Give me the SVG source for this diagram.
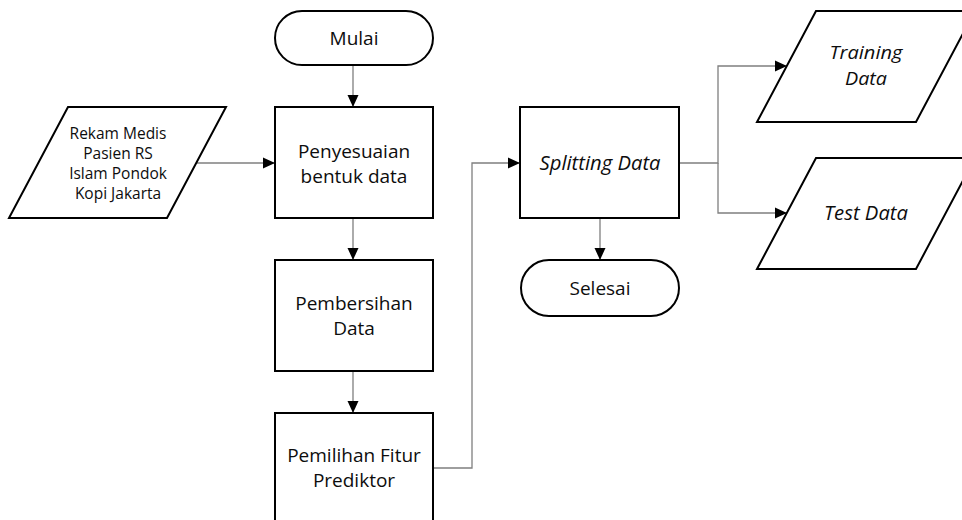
<svg xmlns="http://www.w3.org/2000/svg" width="962" height="520" viewBox="0 0 962 520">
  <style>
    .shape { fill: #ffffff; stroke: #000000; stroke-width: 2; stroke-linejoin: miter; }
    .edge { fill: none; stroke: #7f7f7f; stroke-width: 1.3; }
    .label { font-family: "Open Sans", "Noto Sans", sans-serif; font-size: 19px; fill: #0d0d0d; text-anchor: middle; }
    .small { font-size: 15.5px; }
    .it { font-style: italic; font-size: 19.5px; }
    .it2 { font-style: italic; font-size: 18.5px; }
  </style>
  <defs>
    <marker id="arrow" markerUnits="userSpaceOnUse" markerWidth="12" markerHeight="12" viewBox="0 0 12 12" refX="12" refY="6" orient="auto">
      <path d="M0,0.5 L12,6 L0,11.5 Z" fill="#000000"/>
    </marker>
  </defs>

  <!-- connectors -->
  <g id="connectors">
    <path class="edge" d="M353,65 V107" marker-end="url(#arrow)"/>
    <path class="edge" d="M197,163 H275" marker-end="url(#arrow)"/>
    <path class="edge" d="M353,218 V260" marker-end="url(#arrow)"/>
    <path class="edge" d="M353,371 V413" marker-end="url(#arrow)"/>
    <path class="edge" d="M433,468 H472 V163 H520" marker-end="url(#arrow)"/>
    <path class="edge" d="M600,218 V260" marker-end="url(#arrow)"/>
    <path class="edge" d="M679,163 H718 V66 H787" marker-end="url(#arrow)"/>
    <path class="edge" d="M718,163 V213 H787" marker-end="url(#arrow)"/>
  </g>

  <!-- start -->
  <g id="mulai">
    <rect class="shape" x="275" y="11" width="158" height="54" rx="27" ry="27"/>
    <text class="label" x="354" y="45">Mulai</text>
  </g>

  <!-- input data -->
  <g id="rekam-medis">
    <polygon class="shape" points="68,107 226,107 167,218 9,218"/>
    <text class="label small" x="118" y="139">Rekam Medis</text>
    <text class="label small" x="118" y="159">Pasien RS</text>
    <text class="label small" x="118" y="179">Islam Pondok</text>
    <text class="label small" x="118" y="199">Kopi Jakarta</text>
  </g>

  <g id="penyesuaian">
    <rect class="shape" x="275" y="107" width="158" height="111"/>
    <text class="label" x="354" y="158">Penyesuaian</text>
    <text class="label" x="354" y="183">bentuk data</text>
  </g>

  <g id="pembersihan">
    <rect class="shape" x="275" y="260" width="158" height="111"/>
    <text class="label" x="354" y="310">Pembersihan</text>
    <text class="label" x="354" y="335">Data</text>
  </g>

  <g id="pemilihan-fitur">
    <rect class="shape" x="275" y="413" width="158" height="120"/>
    <text class="label" x="354" y="462">Pemilihan Fitur</text>
    <text class="label" x="354" y="487">Prediktor</text>
  </g>

  <g id="splitting">
    <rect class="shape" x="520" y="107" width="159" height="111"/>
    <text class="label it" x="600" y="170" textLength="121" lengthAdjust="spacingAndGlyphs">Splitting Data</text>
  </g>

  <!-- end -->
  <g id="selesai">
    <rect class="shape" x="521" y="260" width="158" height="56" rx="28" ry="28"/>
    <text class="label" x="600" y="295">Selesai</text>
  </g>

  <!-- outputs -->
  <g id="training-data">
    <polygon class="shape" points="816,11 975,11 916,122 757,122"/>
    <text class="label it2" x="866" y="59" textLength="73" lengthAdjust="spacingAndGlyphs">Training</text>
    <text class="label it2" x="866" y="85" textLength="42" lengthAdjust="spacingAndGlyphs">Data</text>
  </g>

  <g id="test-data">
    <polygon class="shape" points="816,158 975,158 916,269 757,269"/>
    <text class="label it" x="866" y="220" textLength="84" lengthAdjust="spacingAndGlyphs">Test Data</text>
  </g>
</svg>
